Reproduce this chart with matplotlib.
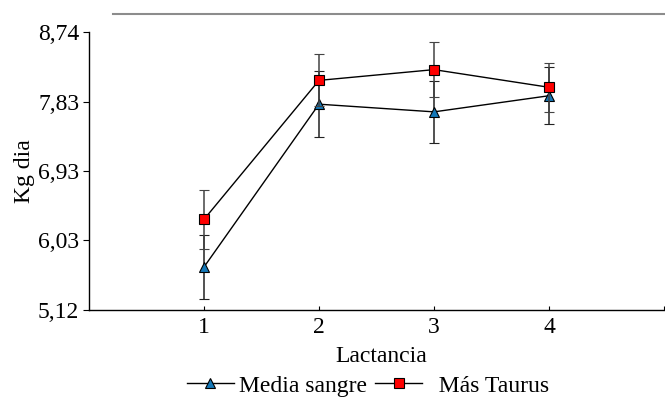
import matplotlib
matplotlib.use("Agg")
import matplotlib.pyplot as plt
from matplotlib.lines import Line2D

plt.rcParams["font.family"] = ["Liberation Serif", "DejaVu Serif"]

lactancia = [1, 2, 3, 4]
media_sangre = [5.68, 7.80, 7.70, 7.91]
media_sangre_err = [0.42, 0.43, 0.40, 0.37]
mas_taurus = [6.30, 8.11, 8.25, 8.02]
mas_taurus_err = [0.38, 0.34, 0.36, 0.32]
yticks = [5.12, 6.03, 6.93, 7.83, 8.74]
ytick_labels = ["5,12", "6,03", "6,93", "7,83", "8,74"]
xticks = [1, 2, 3, 4, 5]
xtick_labels = ["1", "2", "3", "4", ""]

W, H = 665, 400
fig = plt.figure(figsize=(W / 100, H / 100), dpi=100)
ax = fig.add_axes([89 / W, 1 - 310 / H, 575 / W, 278 / H])

# top grey rule above the plot
fig.add_artist(Line2D([113 / W, 1.0], [1 - 14 / H, 1 - 14 / H],
                      color="#8c8c8c", lw=1.5))

blue = "#1478b8"
red = "#ff0000"

ax.errorbar(lactancia, media_sangre, yerr=media_sangre_err, color="black", lw=1,
            elinewidth=1.1, ecolor="#222222", capsize=3.5, capthick=1.1,
            marker="^", ms=7, mfc=blue, mec="black", mew=0.8, zorder=3)
ax.errorbar(lactancia, mas_taurus, yerr=mas_taurus_err, color="black", lw=1,
            elinewidth=1.1, ecolor="#444444", capsize=3.5, capthick=1.1,
            marker="s", ms=6.5, mfc=red, mec="black", mew=0.8, zorder=4)

ax.set_xlim(0, 5)
ax.set_ylim(5.12, 8.74)
ax.set_xticks(xticks)
ax.set_xticklabels(xtick_labels)
ax.set_yticks(yticks)
ax.set_yticklabels(ytick_labels)
ax.tick_params(axis="x", direction="in", length=3, labelsize=17, pad=5)
ax.tick_params(axis="y", direction="out", length=4, labelsize=17, pad=3)

for s in ["top", "right"]:
    ax.spines[s].set_visible(False)
for s in ["left", "bottom"]:
    ax.spines[s].set_linewidth(1)

ax.set_xlabel("Lactancia", fontsize=17)
ax.set_ylabel("Kg dia", fontsize=17)
ax.yaxis.set_label_coords(-0.094, 0.5)
ax.xaxis.set_label_coords(292 / 575, -(346 - 310) / 278)

h1 = Line2D([], [], color="black", lw=1, marker="^", ms=7, mfc=blue, mec="black", mew=0.8)
h2 = Line2D([], [], color="black", lw=1, marker="s", ms=6.5, mfc=red, mec="black", mew=0.8)
fig.legend([h1, h2], ["Media sangre", "  Más Taurus"], loc="center",
           bbox_to_anchor=(368 / W, 1 - 386 / H), ncol=2, frameon=False,
           fontsize=17, handlelength=2.0, handletextpad=0.2, columnspacing=0.35,
           borderpad=0)

fig.savefig("out.png", dpi=100)
